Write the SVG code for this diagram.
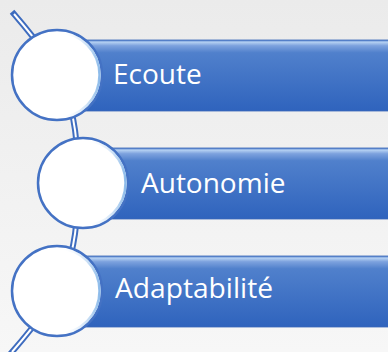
<svg xmlns="http://www.w3.org/2000/svg" width="388" height="352" viewBox="0 0 388 352">
  <defs>
    <linearGradient id="bg" x1="0" y1="0" x2="0" y2="1">
      <stop offset="0" stop-color="#EBEBEB"/>
      <stop offset="1" stop-color="#F7F7F7"/>
    </linearGradient>
    <linearGradient id="bar" x1="0" y1="0" x2="0" y2="1">
      <stop offset="0" stop-color="#4F7CC9"/>
      <stop offset="0.03" stop-color="#B4D0F2"/>
      <stop offset="0.08" stop-color="#7DA2DE"/>
      <stop offset="0.18" stop-color="#5080CC"/>
      <stop offset="1" stop-color="#2F63BD"/>
    </linearGradient>
    <linearGradient id="glow" x1="0" y1="0" x2="1" y2="0">
      <stop offset="0.55" stop-color="#FFFFFF" stop-opacity="0"/>
      <stop offset="1" stop-color="#8DBBEA"/>
    </linearGradient>
    <style>
      .bar { fill: url(#bar); stroke: #3A68B8; stroke-width: 0.8; }
      .ring { fill: #FFFFFF; stroke: #4472C4; stroke-width: 2.5; }
      .glow { fill: none; stroke: url(#glow); stroke-width: 2.5; }
      .lbl { font-family: "Open Sans", "Liberation Sans", sans-serif; font-size: 28px; fill: #FFFFFF; }
      .lineOuter { fill: none; stroke: #3E6CBF; stroke-width: 6; stroke-linecap: square; }
      .lineInner { fill: none; stroke: #FFFFFF; stroke-width: 2; stroke-linecap: butt; }
    </style>
  </defs>
  <rect x="0" y="0" width="388" height="352" fill="url(#bg)"/>

  <g id="connectors">
    <path class="lineOuter" d="M 14 14 C 64 72 78 102 78 182 C 78 262 64 292 12 352"/>
    <path class="lineInner" d="M 14 14 C 64 72 78 102 78 182 C 78 262 64 292 12 352"/>
  </g>

  <g id="node-ecoute">
    <rect class="bar" x="57" y="40" width="340" height="71"/>
    <circle class="ring" cx="57" cy="75" r="45"/>
    <circle class="glow" cx="57" cy="75" r="42.5"/>
    <text class="lbl" x="113" y="84">Ecoute</text>
  </g>

  <g id="node-autonomie">
    <rect class="bar" x="83" y="148" width="314" height="71"/>
    <circle class="ring" cx="83" cy="183" r="45"/>
    <circle class="glow" cx="83" cy="183" r="42.5"/>
    <text class="lbl" x="141" y="193">Autonomie</text>
  </g>

  <g id="node-adaptabilite">
    <rect class="bar" x="57" y="256" width="340" height="71"/>
    <circle class="ring" cx="57" cy="291" r="45"/>
    <circle class="glow" cx="57" cy="291" r="42.5"/>
    <text class="lbl" x="115" y="298" textLength="158" lengthAdjust="spacingAndGlyphs">Adaptabilité</text>
  </g>
</svg>
